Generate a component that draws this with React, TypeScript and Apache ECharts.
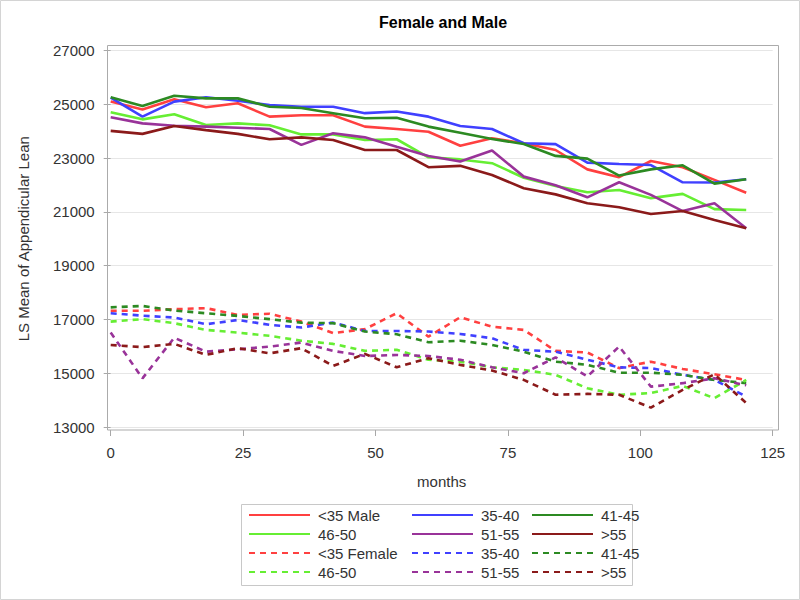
import React, { useEffect, useRef } from "react";
import * as echarts from "echarts";

const months = [0, 6, 12, 18, 24, 30, 36, 42, 48, 54, 60, 66, 72, 78, 84, 90, 96, 102, 108, 114, 120];

// Male (solid)
const maleLt35 = [25100, 24810, 25190, 24890, 25040, 24540, 24590, 24590, 24170, 24080, 23980, 23460, 23740, 23550, 23300, 22580, 22290, 22890, 22660, 22190, 21710];
const male3540 = [25250, 24540, 25100, 25260, 25130, 24970, 24910, 24910, 24670, 24730, 24540, 24190, 24080, 23550, 23520, 22830, 22780, 22740, 22100, 22090, 22210];
const male4145 = [25260, 24940, 25320, 25220, 25220, 24910, 24860, 24670, 24480, 24500, 24170, 23940, 23710, 23520, 23080, 22980, 22350, 22580, 22730, 22050, 22210];
const male4650 = [24700, 24440, 24630, 24230, 24290, 24220, 23880, 23880, 23670, 23700, 23030, 22950, 22810, 22270, 21960, 21730, 21810, 21510, 21670, 21100, 21070];
const male5155 = [24520, 24290, 24200, 24170, 24130, 24080, 23490, 23920, 23770, 23420, 23080, 22870, 23280, 22310, 21990, 21540, 22100, 21630, 21030, 21320, 20390];
const maleGt55 = [24010, 23900, 24190, 24040, 23900, 23700, 23770, 23670, 23300, 23300, 22660, 22710, 22370, 21880, 21650, 21320, 21170, 20920, 21030, 20700, 20390];

// Female (dashed)
const femLt35 = [17320, 17320, 17380, 17420, 17170, 17210, 16920, 16490, 16640, 17230, 16360, 17080, 16730, 16610, 15830, 15770, 15190, 15430, 15160, 14960, 14750];
const fem3540 = [17230, 17140, 17070, 16820, 16980, 16800, 16700, 16880, 16570, 16570, 16550, 16460, 16300, 15870, 15800, 15500, 15220, 15190, 14940, 14750, 14130];
const fem4145 = [17450, 17500, 17330, 17230, 17130, 17010, 16880, 16860, 16550, 16450, 16150, 16210, 16050, 15800, 15430, 15310, 15020, 15020, 14940, 14750, 14630];
const fem4650 = [16920, 17010, 16860, 16610, 16510, 16390, 16210, 16090, 15830, 15870, 15500, 15430, 15220, 15120, 14940, 14440, 14200, 14260, 14530, 14070, 14750];
const fem5155 = [16510, 14810, 16320, 15800, 15890, 15990, 16140, 15830, 15640, 15680, 15640, 15500, 15220, 15000, 15590, 14880, 15990, 14500, 14630, 14810, 14550];
const femGt55 = [16050, 15970, 16090, 15680, 15930, 15740, 15930, 15270, 15720, 15220, 15560, 15310, 15100, 14750, 14200, 14230, 14200, 13720, 14380, 14960, 13890];

const yTicksMin = 13000;
const yTicksMax = 27000;
const yInterval = 2000;
const xMin = 0;
const xMax = 125;
const xInterval = 25;

const seriesNames = [
  "<35 Male", "35-40 Male", "41-45 Male", "46-50 Male", "51-55 Male", ">55 Male",
  "<35 Female", "35-40 Female", "41-45 Female", "46-50 Female", "51-55 Female", ">55 Female",
];
const legendLabels = [
  "<35 Male", "35-40", "41-45", "46-50", "51-55", ">55",
  "<35 Female", "35-40", "41-45", "46-50", "51-55", ">55",
];
const seriesValues = [maleLt35, male3540, male4145, male4650, male5155, maleGt55, femLt35, fem3540, fem4145, fem4650, fem5155, femGt55];
const groupColors = ["#FF4040", "#4040FF", "#2C8A22", "#66EE33", "#993399", "#8B1A1A"];

const FONT = "'Liberation Sans', Arial, sans-serif";

export default function App() {
  const ref = useRef<HTMLDivElement>(null);

  useEffect(() => {
    if (!ref.current) return;
    const chart = echarts.init(ref.current, null, { renderer: "svg" });

    const labelMap: Record<string, string> = {};
    seriesNames.forEach((n, i) => (labelMap[n] = legendLabels[i]));

    const series = seriesNames.map((name, i) => {
      const color = groupColors[i % 6];
      const dashed = i >= 6;
      return {
        name,
        type: "line",
        symbol: "none",
        data: months.map((m, k) => [m, seriesValues[i][k]]),
        lineStyle: { color, width: 2.6, type: dashed ? [6, 5] : "solid", cap: "butt" },
        itemStyle: { color },
        emphasis: { disabled: true },
        z: 2,
      };
    });

    const columns = [
      [0, 3, 6, 9],
      [1, 4, 7, 10],
      [2, 5, 8, 11],
    ];
    const colLeft = [248, 411, 531];
    const legends = columns.map((idx, c) => ({
      show: true,
      orient: "vertical",
      left: colLeft[c],
      top: 507.5,
      padding: 0,
      itemGap: 4,
      itemWidth: 61,
      itemHeight: 14,
      selectedMode: false,
      itemStyle: { opacity: 0 },
      data: idx.map((i) => seriesNames[i]),
      formatter: (n: string) => labelMap[n],
      textStyle: { fontSize: 15, color: "#333", fontFamily: FONT, padding: [0, 0, 0, 3] },
    }));

    chart.setOption({
      animation: false,
      backgroundColor: "#fff",
      grid: { left: 110.7, right: 27.3, top: 50.5, bottom: 173, containLabel: false },
      xAxis: {
        type: "value",
        min: xMin,
        max: xMax,
        interval: xInterval,
        offset: 3,
        name: "months",
        nameLocation: "middle",
        nameGap: 44,
        nameTextStyle: { fontSize: 15, color: "#333", fontFamily: FONT },
        axisLine: { show: false },
        axisTick: { show: true, length: 6, lineStyle: { color: "#a8a8a8" } },
        axisLabel: { fontSize: 15, color: "#333", fontFamily: FONT, margin: 15, formatter: (v: number) => String(v) },
        splitLine: { show: false },
      },
      yAxis: {
        type: "value",
        min: yTicksMin,
        max: yTicksMax,
        interval: yInterval,
        offset: 4,
        name: "LS Mean of Appendicular Lean",
        nameLocation: "middle",
        nameGap: 76,
        nameTextStyle: { fontSize: 15, color: "#333", fontFamily: FONT },
        axisLine: { show: false },
        axisTick: { show: true, length: 7, lineStyle: { color: "#a8a8a8" } },
        axisLabel: { fontSize: 15, color: "#333", fontFamily: FONT, margin: 12, formatter: (v: number) => String(v) },
        splitLine: { show: true, lineStyle: { color: "#e6e6e6", width: 1 } },
      },
      legend: legends,
      graphic: [
        {
          type: "rect",
          silent: true,
          shape: { x: 0.5, y: 0.5, width: 799, height: 599 },
          style: { fill: "none", stroke: "#d4d4d4", lineWidth: 1 },
        },
        {
          type: "rect",
          silent: true,
          shape: { x: 107.5, y: 45.5, width: 671, height: 384.5 },
          style: { fill: "none", stroke: "#ababab", lineWidth: 1 },
          z: 10,
        },
        {
          type: "rect",
          silent: true,
          shape: { x: 241.5, y: 504.5, width: 391, height: 81 },
          style: { fill: "none", stroke: "#c8c8c8", lineWidth: 1 },
        },
        {
          type: "text",
          x: 443,
          y: 22,
          style: {
            text: "Female and Male",
            fontSize: 16,
            fontWeight: "bold",
            fontFamily: FONT,
            fill: "#000",
            align: "center",
            verticalAlign: "middle",
          },
        },
      ],
      series,
    });

    return () => chart.dispose();
  }, []);

  return (
    <div
      ref={ref}
      style={{ position: "fixed", left: 0, top: 0, width: 800, height: 600, background: "#fff" }}
    />
  );
}
